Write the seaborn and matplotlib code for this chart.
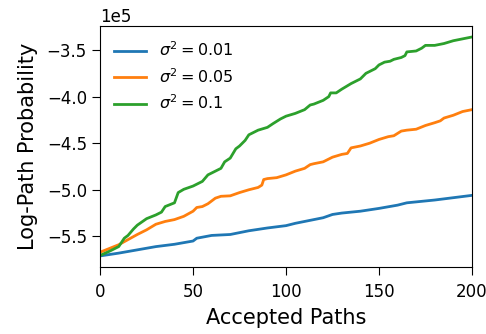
import matplotlib
matplotlib.use("Agg")
import matplotlib.pyplot as plt
import seaborn as sns
import pandas as pd

# values in units of 1e5
x_s001 = [0, 10, 20, 30, 40, 50, 52, 60, 70, 80, 90, 100, 105, 115, 120, 125, 130, 140,
          150, 160, 165, 170, 180, 190, 200]
y_s001 = [-5.71, -5.68, -5.645, -5.61, -5.585, -5.55, -5.52, -5.49, -5.48, -5.44, -5.41,
          -5.385, -5.36, -5.32, -5.30, -5.265, -5.25, -5.23, -5.20, -5.165, -5.14, -5.13,
          -5.11, -5.085, -5.06]

x_s005 = [0, 5, 10, 15, 20, 25, 30, 35, 40, 45, 50, 52, 55, 58, 62, 65, 70, 75, 80, 85,
          87, 88, 90, 95, 100, 105, 110, 113, 115, 120, 125, 130, 133, 135, 140, 145, 150,
          155, 158, 162, 165, 170, 175, 180, 183, 185, 190, 195, 200]
y_s005 = [-5.67, -5.63, -5.59, -5.535, -5.48, -5.43, -5.37, -5.34, -5.32, -5.285, -5.23,
          -5.19, -5.18, -5.15, -5.09, -5.07, -5.065, -5.03, -5.00, -4.975, -4.95, -4.89,
          -4.88, -4.87, -4.84, -4.80, -4.77, -4.73, -4.72, -4.70, -4.65, -4.62, -4.61,
          -4.55, -4.53, -4.50, -4.46, -4.43, -4.42, -4.37, -4.36, -4.35, -4.31, -4.28,
          -4.26, -4.23, -4.20, -4.16, -4.14]

x_s01 = [0, 5, 10, 13, 15, 18, 20, 25, 30, 33, 35, 40, 42, 45, 50, 55, 58, 62, 65, 67, 70,
         73, 75, 78, 80, 85, 90, 93, 97, 100, 105, 110, 113, 115, 120, 123, 124, 127, 130,
         135, 140, 143, 145, 148, 150, 153, 156, 158, 162, 164, 165, 170, 173, 175, 180,
         185, 190, 195, 200]
y_s01 = [-5.705, -5.66, -5.61, -5.52, -5.49, -5.42, -5.38, -5.31, -5.27, -5.24, -5.18,
         -5.14, -5.03, -4.995, -4.96, -4.91, -4.84, -4.80, -4.77, -4.70, -4.66, -4.56,
         -4.53, -4.47, -4.41, -4.36, -4.33, -4.29, -4.24, -4.21, -4.18, -4.14, -4.09,
         -4.08, -4.04, -4.00, -3.96, -3.96, -3.92, -3.86, -3.81, -3.75, -3.73, -3.70,
         -3.66, -3.63, -3.62, -3.60, -3.58, -3.56, -3.52, -3.51, -3.48, -3.45, -3.45,
         -3.43, -3.40, -3.38, -3.36]

labels = [r"$\sigma^2 = 0.01$", r"$\sigma^2 = 0.05$", r"$\sigma^2 = 0.1$"]
colors = ["#1f77b4", "#ff7f0e", "#2ca02c"]

frames = []
for xs, ys, lab in [(x_s001, y_s001, labels[0]), (x_s005, y_s005, labels[1]), (x_s01, y_s01, labels[2])]:
    frames.append(pd.DataFrame({"x": xs, "y": [v * 1e5 for v in ys], "series": lab}))
df = pd.concat(frames, ignore_index=True)

fig = plt.figure(figsize=(4.86, 3.34), dpi=100)
ax = fig.add_axes([0.206, 0.201, 0.765, 0.721])
sns.lineplot(data=df, x="x", y="y", hue="series", hue_order=labels,
             palette=colors, linewidth=2, ax=ax, estimator=None, sort=True)

ax.set_xlim(0, 200)
ax.set_xticks([0, 50, 100, 150, 200])
ax.set_yticks([-5.5e5, -5.0e5, -4.5e5, -4.0e5, -3.5e5])
ax.ticklabel_format(axis="y", style="sci", scilimits=(0, 0))
ax.yaxis.get_offset_text().set_fontsize(12)
ax.tick_params(labelsize=12, length=6)
ax.tick_params(axis="x", pad=5.5)
ax.tick_params(axis="y", pad=3.5)
ax.set_xlabel("Accepted Paths", fontsize=15, labelpad=5)
ax.set_ylabel("Log-Path Probability", fontsize=15, labelpad=6)
ax.legend(loc="upper left", frameon=False, fontsize=11.5, title=None)

fig.savefig("out.png", dpi=100)
